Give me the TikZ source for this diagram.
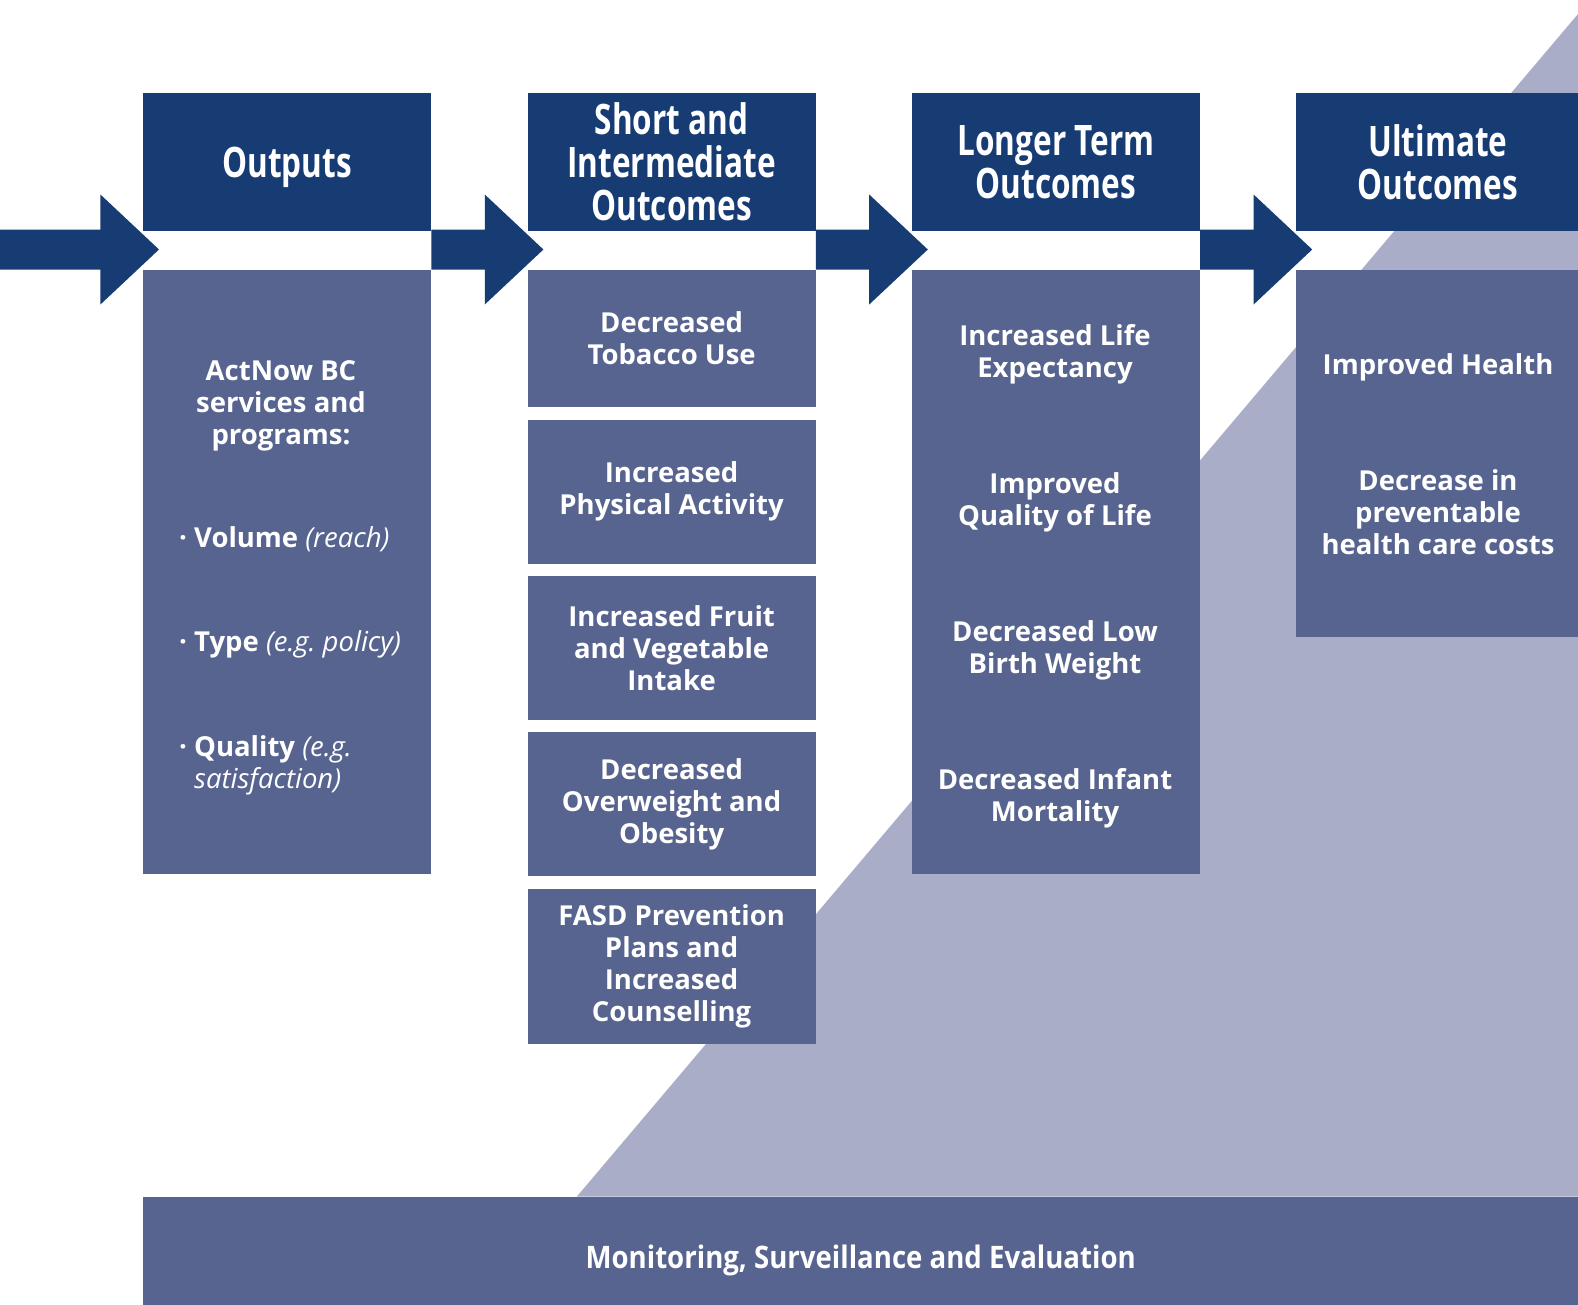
\documentclass[tikz,border=0pt]{standalone}
\usepackage{fontspec}
\setmainfont{Open Sans}
\newfontfamily\headfont[FakeStretch=0.75]{Open Sans}
\newfontfamily\bandfont[FakeStretch=0.89]{Open Sans}
\usetikzlibrary{positioning,calc}
\frenchspacing

\definecolor{headblue}{HTML}{173C74}
\definecolor{boxblue}{HTML}{57648F}
\definecolor{wedgegray}{HTML}{A9ADC8}

\tikzset{
  headbox/.style={fill=headblue, text=white, align=center, inner sep=0pt,
    minimum width=288pt, minimum height=138pt,
    font=\headfont\bfseries\fontsize{42}{43}\selectfont},
  bodybox/.style={fill=boxblue, text=white, align=center, inner sep=0pt,
    minimum width=288pt, font=\bfseries\fontsize{27.5}{32}\selectfont},
  bodytext/.style={text=white, align=center, inner sep=0pt,
    font=\bfseries\fontsize{27.5}{32}\selectfont},
}

% block arrow from #1 into header #2
\newcommand{\flowarrow}[2]{%
  \fill[headblue] ($(#1 |- amid)+(0,-20)$) -- ($(#2.west |- amid)+(-42.6,-20)$)
    -- ++(0,-35) -- ($(#2.west |- amid)+(16,0)$)
    -- ($(#2.west |- amid)+(-42.6,55)$) -- ++(0,-35)
    -- ($(#1 |- amid)+(0,20)$) -- cycle;}

\begin{document}
\begin{tikzpicture}[x=1pt,y=-1pt]
    \useasboundingbox (0,0) rectangle (1578,1304);

    % background wedge
    \fill[wedgegray] (576.7,1196.7) -- (1578,14) -- (1578,1196.7) -- cycle;

    \begin{scope}[every node/.style={headbox}]
        \node[anchor=north west, text depth=0pt] (outhead) at (143,92.6) {Outputs};
        \node[right=96pt of outhead] (shorthead) {Short and\\Intermediate\\Outcomes};
        \node[right=96pt of shorthead] (longhead) {Longer Term\\Outcomes};
        \node[right=96pt of longhead, minimum width=283pt] (ulthead) {Ultimate\\Outcomes};
    \end{scope}

    \begin{scope}[every node/.style={bodybox}]
        \node[minimum height=604.5pt, below=38.6pt of outhead] (outbody) {};
        \node[minimum height=137.5pt, below=38.6pt of shorthead] (tobacco) {Decreased\\Tobacco Use};
        \node[minimum height=143.5pt, below=12.3pt of tobacco] (activity) {Increased\\Physical Activity};
        \node[minimum height=143.5pt, below=12.3pt of activity] (fruit) {Increased Fruit\\and Vegetable\\Intake};
        \node[minimum height=143.5pt, below=12.3pt of fruit] (obesity) {Decreased\\Overweight and\\Obesity};
        \node[minimum height=155pt, below=12.3pt of obesity] (fasd) {FASD Prevention\\Plans and\\Increased\\Counselling};
        \node[minimum height=604.5pt, below=38.6pt of longhead] (longbody) {};
        \node[minimum height=366.7pt, minimum width=283pt, below=38.6pt of ulthead] (ultbody) {};
        \node[anchor=north west, minimum width=1435pt, minimum height=126.6pt,
              font=\bandfont\bfseries\fontsize{31}{32}\selectfont] (monitor) at (143,1196.7)
              {Monitoring, Surveillance and Evaluation};
    \end{scope}

    \begin{scope}[every node/.style={bodytext}]
        \node (actnow) at (281,405.6) {ActNow BC\\services and\\programs:};
        \node[anchor=west] (volume) at (179,539.5) {·\ Volume {\mdseries\itshape (reach)}};
        \node[anchor=west] (type) at (179,644) {·\ Type {\mdseries\itshape (e.g. policy)}};
        \node[anchor=west, align=left] (quality) at (179,765)
            {·\ Quality {\mdseries\itshape (e.g.}\\\hphantom{·\ }{\mdseries\itshape satisfaction)}};
        \node (life) at (1055,354.5) {Increased Life\\Expectancy};
        \node (quallife) at (1055,502.5) {Improved\\Quality of Life};
        \node (birth) at (1055,650.5) {Decreased Low\\Birth Weight};
        \node (infant) at (1055,798.5) {Decreased Infant\\Mortality};
        \node (health) at (1438,367.3) {Improved Health};
        \node (costs) at (1438,512) {Decrease in\\preventable\\health care costs};
    \end{scope}

    % arrows
    \coordinate (amid) at (0,249.5);
    \coordinate (start) at (0,249.5);
    \flowarrow{start}{outhead}
    \flowarrow{outhead.east}{shorthead}
    \flowarrow{shorthead.east}{longhead}
    \flowarrow{longhead.east}{ulthead}
\end{tikzpicture}
\end{document}
